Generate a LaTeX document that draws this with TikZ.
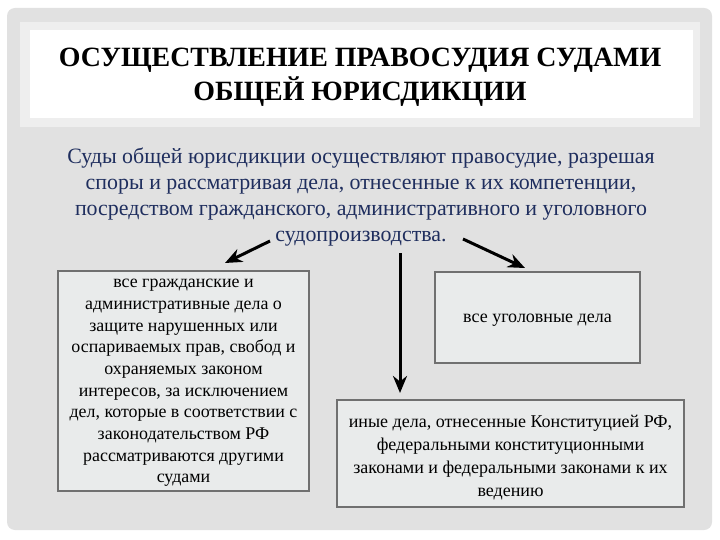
\documentclass[tikz,border=0pt]{standalone}
\usepackage{fontspec}
\setmainfont{Liberation Serif}
\usetikzlibrary{arrows.meta}
\definecolor{pagebg}{HTML}{FFFFFF}
\definecolor{panel}{HTML}{E1E1E1}
\definecolor{titleedge}{HTML}{EEEEEE}
\definecolor{navy}{HTML}{1F2E5E}
\definecolor{boxfill}{HTML}{E9EBEB}
\definecolor{boxline}{HTML}{707070}
\tikzset{
  infobox/.style={draw=boxline, line width=2.2pt, fill=boxfill, inner sep=0pt},
  boxtext/.style={align=center, text=black, inner sep=0pt},
  bigarrow/.style={line width=3pt, -{Stealth[length=17pt,width=14pt]}},
}
\begin{document}
\begin{tikzpicture}[x=1pt,y=-1pt]
\useasboundingbox (0,0) rectangle (720,540);
\fill[pagebg] (0,0) rectangle (720,540);
\fill[panel, rounded corners=8pt] (7,8) rectangle (712,530);
\fill[titleedge] (20,22) rectangle (700,127);
\fill[white] (30,30) rectangle (693,118);
\node[font=\fontsize{27.9}{34}\selectfont\bfseries, align=center] (title) at (360,77)
  {ОСУЩЕСТВЛЕНИЕ ПРАВОСУДИЯ СУДАМИ\\ОБЩЕЙ ЮРИСДИКЦИИ};
\node[font=\fontsize{21.9}{26.3}\selectfont, text=navy, align=center, inner sep=0pt] (lead) at (361,197)
  {Суды общей юрисдикции осуществляют правосудие, разрешая\\споры и рассматривая дела, отнесенные к их компетенции,\\посредством гражданского, административного и уголовного\\судопроизводства.};
\node[infobox, minimum width=251pt, minimum height=220pt] (civil) at (183.5,381) {};
\node[boxtext, font=\fontsize{17.9}{21.7}\selectfont] (civiltext) at ([yshift=-2pt]civil.center)
  {все гражданские и\\административные дела о\\защите нарушенных или\\оспариваемых прав, свобод и\\охраняемых законом\\интересов, за исключением\\дел, которые в соответствии с\\законодательством РФ\\рассматриваются другими\\судами};
\node[infobox, minimum width=205pt, minimum height=91pt] (crim) at (537.5,317.5) {};
\node[boxtext, font=\fontsize{18}{22}\selectfont] (crimtext) at ([yshift=-3pt]crim.center)
  {все уголовные дела};
\node[infobox, minimum width=347pt, minimum height=107pt] (other) at (510.5,453.5) {};
\node[boxtext, font=\fontsize{18}{23.2}\selectfont] (othertext) at ([yshift=-4pt]other.center)
  {иные дела, отнесенные Конституцией РФ,\\федеральными конституционными\\законами и федеральными законами к их\\ведению};
\coordinate (sL) at (270,241);
\coordinate (sM) at (400,253);
\coordinate (sR) at (463,239);
\coordinate (eL) at (225,263);
\coordinate (eM) at (400,393);
\coordinate (eR) at (525,268);
\draw[bigarrow] (sL) -- (eL);
\draw[bigarrow] (sM) -- (eM);
\draw[bigarrow] (sR) -- (eR);
\end{tikzpicture}
\end{document}
